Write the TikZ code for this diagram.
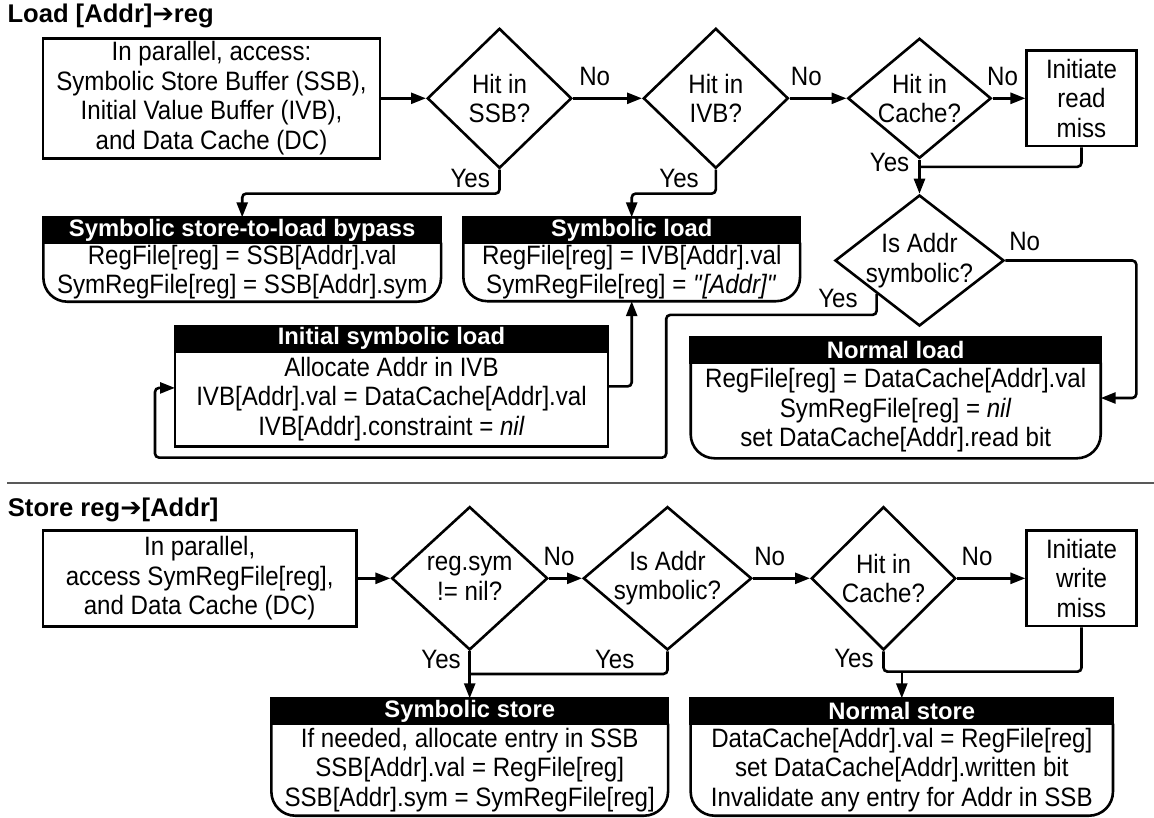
\documentclass[tikz,border=0pt]{standalone}
\usepackage{fontspec}
\setmainfont{Liberation Sans}
\newfontfamily\bodyfont{Liberation Sans}[FakeStretch=0.906]
\newfontfamily\arrowfont{DejaVu Sans}
\usetikzlibrary{arrows.meta}
\usetikzlibrary{shapes.geometric}

\begin{document}
\begin{tikzpicture}[x=1pt, y=-1pt,
    every node/.style={font=\bodyfont\fontsize{26.6}{29.5}\selectfont},
    conn/.style={line width=2.6pt, rounded corners=4pt},
    arr/.style={conn, -{Triangle[length=15pt,width=11pt]}},
    startbox/.style={draw, line width=2.6pt, align=center, inner sep=0pt},
    decision/.style={draw, diamond, line width=2.6pt, align=center, inner sep=-12pt},
    hdr/.style={draw, fill=black, text=white, line width=2.6pt, inner sep=0pt, outer sep=0pt,
      minimum height=25.4pt, anchor=north, font=\rmfamily\fontsize{23.8}{29.5}\selectfont\bfseries},
    body/.style={align=center, inner sep=0pt, outer sep=0pt, anchor=north},
    nolbl/.style={inner sep=0pt, anchor=south west},
    yeslbl/.style={inner sep=0pt, anchor=north east},
    sectitle/.style={inner sep=0pt, anchor=base west, font=\rmfamily\fontsize{25.6}{29}\selectfont\bfseries}]
  \useasboundingbox (0,0) rectangle (1154,817);

  % Load [Addr] -> reg
  \node[sectitle] (ldtitle) at (7.3,22.7) {Load [Addr]{\arrowfont ➔}reg};
  \node[startbox, minimum width=337pt, minimum height=120pt] (ldstart) at (211.5,98.3) {In parallel, access:\\Symbolic Store Buffer (SSB),\\Initial Value Buffer (IVB),\\and Data Cache (DC)};
  \node[decision, minimum width=144.4pt, minimum height=140pt] (hitssb) at (499.5,98.3) {Hit in\\SSB?};
  \node[decision, minimum width=145pt, minimum height=140pt] (hitivb) at (715.8,98.3) {Hit in\\IVB?};
  \node[decision, minimum width=143.4pt, minimum height=120pt] (hitcache) at (919.5,98.3) {Hit in\\Cache?};
  \node[startbox, minimum width=109.5pt, minimum height=95.5pt] (rdmiss) at (1081.5,98.3) {Initiate\\read\\miss};
  \node[decision, minimum width=169pt, minimum height=131pt] (symaddr) at (919.5,260.5) {Is Addr\\symbolic?};

  \node[hdr, minimum width=397.7pt] (bypasshd) at (242.2,217.3) {Symbolic store-to-load bypass};
  \node[body, minimum width=397.7pt, minimum height=59pt] (bypass) at (bypasshd.south) {RegFile[reg] = SSB[Addr].val\\SymRegFile[reg] = SSB[Addr].sym};
  \draw[conn, rounded corners=24pt] (bypasshd.south west) -- (bypass.south west) -- (bypass.south east) -- (bypasshd.south east);

  \node[hdr, minimum width=336.7pt] (symldhd) at (631.7,217.3) {Symbolic load};
  \node[body, minimum width=336.7pt, minimum height=58.5pt] (symld) at (symldhd.south) {RegFile[reg] = IVB[Addr].val\\SymRegFile[reg] = \textit{\textquotedbl[Addr]\textquotedbl}};
  \draw[conn, rounded corners=24pt] (symldhd.south west) -- (symld.south west) -- (symld.south east) -- (symldhd.south east);

  \node[hdr, minimum width=433pt] (initldhd) at (391.5,326) {Initial symbolic load};
  \node[body, minimum width=433pt, minimum height=95pt] (initld) at (initldhd.south) {Allocate Addr in IVB\\IVB[Addr].val = DataCache[Addr].val\\IVB[Addr].constraint = \textit{nil}};
  \draw[conn, sharp corners] (initldhd.south west) -- (initld.south west) -- (initld.south east) -- (initldhd.south east);

  \node[hdr, minimum width=410pt] (nldhd) at (895.7,337.3) {Normal load};
  \node[body, minimum width=410pt, minimum height=95.6pt] (nld) at (nldhd.south) {RegFile[reg] = DataCache[Addr].val\\SymRegFile[reg] = \textit{nil}\\set DataCache[Addr].read bit};
  \draw[conn, rounded corners=24pt] (nldhd.south west) -- (nld.south west) -- (nld.south east) -- (nldhd.south east);

  \draw[arr] (ldstart.east) -- (hitssb.west);
  \draw[arr] (hitssb.east) node[nolbl, xshift=5pt, yshift=11.6pt] {No} -- (hitivb.west);
  \draw[arr] (hitivb.east) node[nolbl, yshift=11.6pt] {No} -- (hitcache.west);
  \draw[arr] (hitcache.east) node[nolbl, xshift=-6.7pt, yshift=11.6pt] {No} -- (rdmiss.west);
  \draw[arr] (hitssb.south) node[yeslbl, xshift=-8.3pt, yshift=1.5pt] {Yes} -- ++(0,24) -| (bypasshd.north);
  \draw[arr] (hitivb.south) node[yeslbl, xshift=-15.8pt, yshift=1.5pt] {Yes} -- ++(0,24) -| (symldhd.north);
  \draw[arr] (hitcache.south) node[yeslbl, xshift=-9pt, yshift=7.8pt] {Yes} -- (symaddr.north);
  \draw[conn] (rdmiss.south) |- ([yshift=-7.2pt]hitcache.south);
  \draw[arr] (symaddr.east) node[nolbl, xshift=2.7pt, yshift=8.3pt] {No} -- ++(131,0) |- ([yshift=12.5pt]nld.east);
  \draw[arr] (symaddr.south west) node[yeslbl, xshift=-17.7pt, yshift=5.7pt] {Yes} -- ++(0,21) -| ++(-210.4,142.7) -| ([xshift=-20pt,yshift=11pt]initld.west) -- ([yshift=11pt]initld.west);
  \draw[arr] ([yshift=12.5pt]initld.east) -| (symld.south);

  \draw[line width=2.6pt, black!65] (7,483) -- (1154,483);

  % Store reg -> [Addr]
  \node[sectitle] (sttitle) at (7.7,516) {Store reg{\arrowfont ➔}[Addr]};
  \node[startbox, minimum width=313.3pt, minimum height=96pt] (ststart) at (199.7,578.3) {In parallel,\\access SymRegFile[reg],\\and Data Cache (DC)};
  \node[decision, minimum width=156pt, minimum height=143.3pt] (symreg) at (469.7,578.3) {reg.sym\\!= nil?};
  \node[decision, minimum width=168.4pt, minimum height=143.3pt] (stsymaddr) at (667.5,578.3) {Is Addr\\symbolic?};
  \node[decision, minimum width=144.4pt, minimum height=143.3pt] (sthitcache) at (883.5,578.3) {Hit in\\Cache?};
  \node[startbox, minimum width=109.6pt, minimum height=95.3pt] (wrmiss) at (1081.5,578.3) {Initiate\\write\\miss};

  \node[hdr, minimum width=396.7pt] (symsthd) at (469.7,698.3) {Symbolic store};
  \node[body, minimum width=396.7pt, minimum height=92pt] (symst) at (symsthd.south) {If needed, allocate entry in SSB\\SSB[Addr].val = RegFile[reg]\\SSB[Addr].sym = SymRegFile[reg]};
  \draw[conn, rounded corners=24pt] (symsthd.south west) -- (symst.south west) -- (symst.south east) -- (symsthd.south east);

  \node[hdr, minimum width=422.3pt] (nsthd) at (901.8,698.3) {Normal store};
  \node[body, minimum width=422.3pt, minimum height=92pt] (nst) at (nsthd.south) {DataCache[Addr].val = RegFile[reg]\\set DataCache[Addr].written bit\\Invalidate any entry for Addr in SSB};
  \draw[conn, rounded corners=24pt] (nsthd.south west) -- (nst.south west) -- (nst.south east) -- (nsthd.south east);

  \draw[arr] (ststart.east) -- (symreg.west);
  \draw[arr] (symreg.east) node[nolbl, xshift=-6.6pt, yshift=11pt] {No} -- (stsymaddr.west);
  \draw[arr] (stsymaddr.east) node[nolbl, yshift=11pt] {No} -- (sthitcache.west);
  \draw[arr] (sthitcache.east) node[nolbl, xshift=3.3pt, yshift=11pt] {No} -- (wrmiss.west);
  \draw[arr] (symreg.south) node[yeslbl, xshift=-7.7pt, yshift=2pt] {Yes} -- (symsthd.north);
  \draw[conn] (stsymaddr.south) node[yeslbl, xshift=-31.8pt, yshift=2pt] {Yes} -- ++(0,22.7) coordinate (symjoin) -- (symreg.south |- symjoin);
  \draw[conn] (sthitcache.south) node[yeslbl, xshift=-8.6pt, yshift=3pt] {Yes} -- ++(0,20.4) coordinate (wrjoin) -| (wrmiss.south);
  \draw[arr] (nsthd.north |- wrjoin) -- (nsthd.north);
\end{tikzpicture}
\end{document}
